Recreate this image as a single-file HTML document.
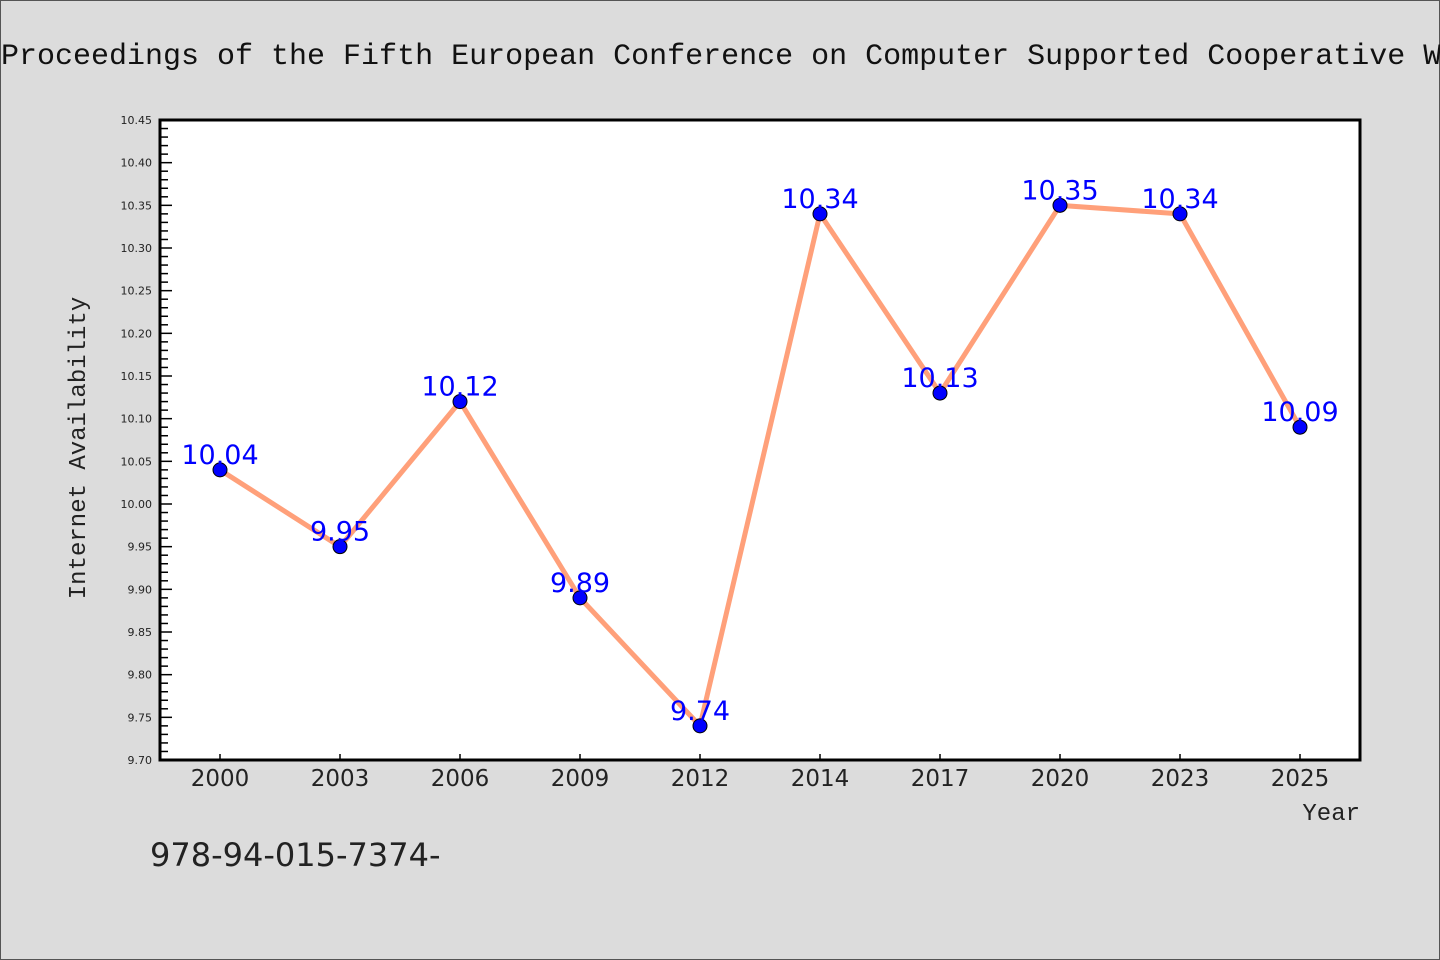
<!DOCTYPE html>
<html><head><meta charset="utf-8"><style>
html,body{margin:0;padding:0;background:#dcdcdc;}
svg{display:block;font-family:"DejaVu Sans","Liberation Sans",sans-serif;}
.mono{font-family:"Liberation Mono","DejaVu Sans Mono",monospace;}
</style></head><body>
<svg id="chart" width="1440" height="960" viewBox="0 0 1440 960">
<rect x="0.5" y="0.5" width="1439" height="959" fill="#dcdcdc" stroke="#555"/>
<text class="mono" x="1" y="64" font-size="30" fill="#111">Proceedings of the Fifth European Conference on Computer Supported Cooperative Work</text>
<rect x="160" y="120" width="1200" height="640" fill="#fff"/>
<g id="yticks"></g><g id="xticks"></g><g id="series"></g>
<rect x="160" y="120" width="1200" height="640" fill="none" stroke="#000" stroke-width="3"/>
<text class="mono" transform="translate(85,448) rotate(-90)" text-anchor="middle" font-size="24" fill="#222">Internet Availability</text>
<text class="mono" x="1360" y="820" text-anchor="end" font-size="24" fill="#222">Year</text>
<text x="150" y="866" font-size="32" fill="#222">978-94-015-7374-</text>
</svg>
<script>
const categories=["2000","2003","2006","2009","2012","2014","2017","2020","2023","2025"];
const values=[10.04,9.95,10.12,9.89,9.74,10.34,10.13,10.35,10.34,10.09];
const yTickLabels=["9.70","9.75","9.80","9.85","9.90","9.95","10.00","10.05","10.10","10.15","10.20","10.25","10.30","10.35","10.40","10.45"];
const yMin=9.70,yMax=10.45,L=160,T=120,W=1200,H=640;
const NS="http://www.w3.org/2000/svg";
function y(v){return T+H-(v-yMin)/(yMax-yMin)*H;}
function x(i){return L+W/categories.length*(i+0.5);}
function mk(t,a,p){const e=document.createElementNS(NS,t);for(const k in a)e.setAttribute(k,a[k]);p.appendChild(e);return e;}
const yg=document.getElementById('yticks');
for(let m=0;m<=75;m++){const v=yMin+m*0.01;const major=m%5===0;
 const l=mk('line',{x1:L,x2:L+(major?12:8),y1:y(v),y2:y(v),stroke:'#000','stroke-width':1.5},yg);
 
 }
yTickLabels.forEach(s=>{const t=mk('text',{x:L-8,y:y(parseFloat(s))+4,'text-anchor':'end','font-size':11,fill:'#222'},yg);t.textContent=s;
 
 });
const xg=document.getElementById('xticks');
categories.forEach((c,i)=>{const l=mk('line',{x1:x(i),x2:x(i),y1:T+H,y2:T+H-6,stroke:'#000','stroke-width':1.5},xg);
 
 
 const t=mk('text',{x:x(i),y:T+H+26,'text-anchor':'middle','font-size':23,fill:'#222'},xg);t.textContent=c;
 
 });
const sg=document.getElementById('series');
const pl=mk('polyline',{points:values.map((v,i)=>x(i)+','+y(v)).join(' '),fill:'none',stroke:'#ffa07a','stroke-width':5},sg);


values.forEach((v,i)=>{const c=mk('circle',{cx:x(i),cy:y(v),r:7,fill:'#0000ff',stroke:'#000','stroke-width':1},sg);
 
 
 const t=mk('text',{x:x(i),y:y(v)-6,'text-anchor':'middle','font-size':27,fill:'#0000ff'},sg);t.textContent=v.toFixed(2);
 
 });
</script>
</body></html>
